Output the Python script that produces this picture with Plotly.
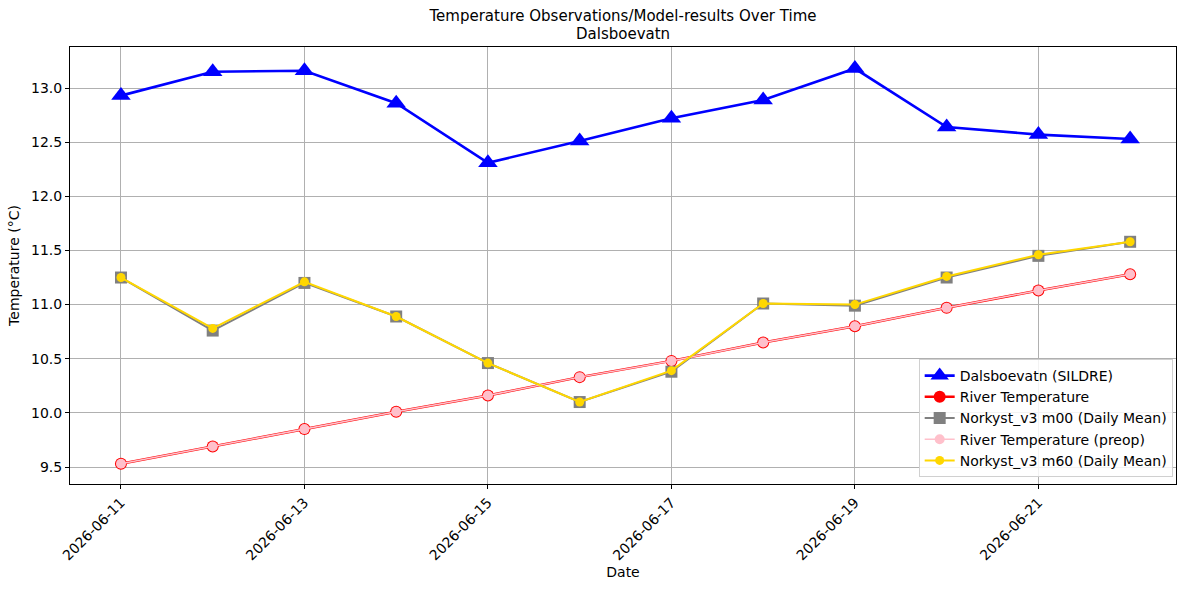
import plotly.graph_objects as go

dates = ["2026-06-11", "2026-06-12", "2026-06-13", "2026-06-14", "2026-06-15", "2026-06-16",
         "2026-06-17", "2026-06-18", "2026-06-19", "2026-06-20", "2026-06-21", "2026-06-22"]
sildre = [12.93, 13.15, 13.16, 12.86, 12.31, 12.51, 12.72, 12.89, 13.18, 12.64, 12.57, 12.53]
river = [9.53, 9.69, 9.85, 10.01, 10.16, 10.33, 10.48, 10.65, 10.80, 10.97, 11.13, 11.28]
m00 = [11.25, 10.76, 11.20, 10.89, 10.46, 10.10, 10.38, 11.01, 10.99, 11.25, 11.45, 11.58]
river_preop = [9.53, 9.69, 9.85, 10.01, 10.16, 10.33, 10.48, 10.65, 10.80, 10.97, 11.13, 11.28]
m60 = [11.25, 10.78, 11.21, 10.89, 10.46, 10.10, 10.39, 11.01, 11.00, 11.26, 11.46, 11.58]
tick_dates = ["2026-06-11", "2026-06-13", "2026-06-15", "2026-06-17", "2026-06-19", "2026-06-21"]

FONT = "DejaVu Sans"
TITLE_X = (70 + 1106 / 2) / 1189
PLOT_H = 590 - 47 - 106

fig = go.Figure()
fig.add_trace(go.Scatter(x=dates, y=sildre, name="Dalsboevatn (SILDRE)", mode="lines+markers",
                         line=dict(color="#0000FF", width=2.6),
                         marker=dict(symbol="triangle-up", size=17, color="#0000FF")))
fig.add_trace(go.Scatter(x=dates, y=river, name="River Temperature", mode="lines+markers",
                         line=dict(color="#FF0000", width=2.5),
                         marker=dict(symbol="circle", size=12, color="#FF0000")))
fig.add_trace(go.Scatter(x=dates, y=m00, name="Norkyst_v3 m00 (Daily Mean)", mode="lines+markers",
                         line=dict(color="#808080", width=2),
                         marker=dict(symbol="square", size=12, color="#808080")))
fig.add_trace(go.Scatter(x=dates, y=river_preop, name="River Temperature (preop)", mode="lines+markers",
                         line=dict(color="#FFC0CB", width=1.5),
                         marker=dict(symbol="circle", size=10, color="#FFC0CB")))
fig.add_trace(go.Scatter(x=dates, y=m60, name="Norkyst_v3 m60 (Daily Mean)", mode="lines+markers",
                         line=dict(color="#FFD700", width=2),
                         marker=dict(symbol="circle", size=9, color="#FFD700")))

fig.update_layout(
    width=1189, height=590,
    margin=dict(l=70, r=13, t=47, b=106),
    paper_bgcolor="white", plot_bgcolor="white",
    font=dict(family=FONT, size=14, color="black"),
    title=dict(text="Temperature Observations/Model-results Over Time",
               x=TITLE_X, xanchor="center", y=1 - 16 / 590, yanchor="middle",
               font=dict(family=FONT, size=15)),
    annotations=[dict(text="Dalsboevatn", xref="paper", yref="paper",
                      x=0.5, y=1 + (47 - 34) / PLOT_H,
                      xanchor="center", yanchor="middle", showarrow=False,
                      font=dict(family=FONT, size=15))],
    legend=dict(x=0.997, y=0.016, xanchor="right", yanchor="bottom",
                bordercolor="#d0d0d0", borderwidth=1, bgcolor="rgba(255,255,255,0.85)",
                font=dict(family=FONT, size=14)),
    showlegend=True,
)

fig.update_xaxes(
    type="date", range=["2026-06-10 10:40", "2026-06-22 12:00"],
    tickvals=tick_dates, ticktext=tick_dates, tickangle=-45,
    showgrid=True, gridcolor="#b0b0b0", gridwidth=1,
    showline=True, linecolor="black", linewidth=1, mirror=True,
    ticks="outside", ticklen=4, tickcolor="black",
    title=dict(text="Date", font=dict(family=FONT, size=14), standoff=4),
    tickfont=dict(family=FONT, size=14), zeroline=False, automargin=False,
)
fig.update_yaxes(
    range=[9.343, 13.379], dtick=0.5, tick0=9.5, tickformat=".1f",
    showgrid=True, gridcolor="#b0b0b0", gridwidth=1,
    showline=True, linecolor="black", linewidth=1, mirror=True,
    ticks="outside", ticklen=4, tickcolor="black",
    title=dict(text="Temperature (°C)", font=dict(family=FONT, size=14), standoff=8),
    tickfont=dict(family=FONT, size=14), zeroline=False, automargin=False,
)

fig.write_html("out.html")
